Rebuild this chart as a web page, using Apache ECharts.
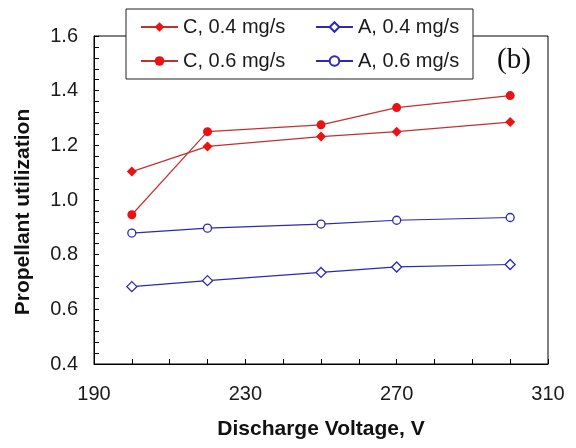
<!DOCTYPE html>
<html>
<head>
<meta charset="utf-8">
<script src="https://cdn.jsdelivr.net/npm/echarts@6/dist/echarts.min.js"></script>
<style>
  html, body { margin: 0; padding: 0; background: #fff; }
  #chart { width: 576px; height: 448px; }
</style>
</head>
<body>
<div id="chart"></div>
<script>
// Discharge voltage (V) and propellant utilization for cathode (C) and anode (A) flows
const voltages = [200, 220, 250, 270, 300];
const c04 = [1.104, 1.196, 1.232, 1.250, 1.285];
const c06 = [0.946, 1.250, 1.275, 1.338, 1.382];
const a04 = [0.683, 0.705, 0.735, 0.755, 0.764];
const a06 = [0.879, 0.897, 0.912, 0.926, 0.936];
const seriesNames = ['C, 0.4 mg/s', 'C, 0.6 mg/s', 'A, 0.4 mg/s', 'A, 0.6 mg/s'];

const pairs = vals => voltages.map((v, i) => [v, vals[i]]);
const RED = '#ee1111', RED_LINE = '#c43030', BLUE = '#2a2ab4';
const FONT = 'Liberation Sans, Arial, sans-serif';

function lineSeries(name, vals, opts) {
  return {
    name: name,
    type: 'line',
    data: pairs(vals),
    symbol: opts.symbol,
    symbolSize: opts.size,
    lineStyle: { color: opts.line, width: 1.2 },
    itemStyle: opts.hollow
      ? { color: '#fff', borderColor: opts.mark, borderWidth: 1.3 }
      : { color: opts.mark, borderColor: opts.mark, borderWidth: 0 },
    emphasis: { disabled: true },
    animation: false,
    z: 5
  };
}

const legendText = { fontFamily: FONT, fontSize: 20, color: '#1a1a1a' };
const legendCommon = {
  orient: 'vertical', top: 12, itemGap: 14,
  itemWidth: 37, itemHeight: 12, textStyle: legendText, z: 10,
  selectedMode: false
};

const chart = echarts.init(document.getElementById('chart'), null, { renderer: 'canvas' });
chart.setOption({
  backgroundColor: '#fff',
  animation: false,
  grid: {
    left: 94, right: 28, top: 36, bottom: 84,
    show: true, borderColor: '#000', borderWidth: 1, backgroundColor: 'transparent'
  },
  xAxis: {
    type: 'value', min: 190, max: 310, interval: 40,
    axisLine: { show: true, lineStyle: { color: '#000', width: 1 } },
    axisTick: { show: true, inside: true, length: 5, lineStyle: { color: '#000' } },
    minorTick: { show: true, splitNumber: 4, length: 5, lineStyle: { color: '#000' } },
    splitLine: { show: false },
    axisLabel: { fontFamily: FONT, fontSize: 20, color: '#1a1a1a', margin: 20 },
    name: 'Discharge Voltage, V', nameLocation: 'middle', nameGap: 55,
    nameTextStyle: { fontFamily: FONT, fontSize: 21, fontWeight: 'bold', color: '#111' }
  },
  yAxis: {
    type: 'value', min: 0.4, max: 1.6, interval: 0.2,
    axisLine: { show: true, lineStyle: { color: '#000', width: 1 } },
    axisTick: { show: true, inside: true, length: 5, lineStyle: { color: '#000' } },
    minorTick: { show: true, splitNumber: 5, length: 5, lineStyle: { color: '#000' } },
    splitLine: { show: false },
    axisLabel: {
      fontFamily: FONT, fontSize: 20, color: '#1a1a1a', margin: 16,
      formatter: v => v.toFixed(1)
    },
    name: 'Propellant utilization', nameLocation: 'middle', nameGap: 60,
    nameTextStyle: {
      fontFamily: FONT, fontSize: 21, fontWeight: 'bold', color: '#111',
      padding: [0, 24, 0, 0]
    }
  },
  legend: [
    Object.assign({ data: [seriesNames[0], seriesNames[1]], left: 135 }, legendCommon),
    Object.assign({ data: [seriesNames[2], seriesNames[3]], left: 310 }, legendCommon)
  ],
  graphic: [
    {
      type: 'rect', z: 8,
      shape: { x: 126, y: 9, width: 347, height: 70 },
      style: { fill: '#fff', stroke: '#222', lineWidth: 1 }
    },
    {
      type: 'text', z: 8, left: 497, top: 46,
      style: { text: '(b)', fontFamily: 'Liberation Serif, Times New Roman, serif', fontSize: 29, fill: '#111' }
    }
  ],
  series: [
    lineSeries(seriesNames[0], c04, { symbol: 'diamond', size: 10, line: RED_LINE, mark: RED }),
    lineSeries(seriesNames[1], c06, { symbol: 'circle', size: 9, line: RED_LINE, mark: RED }),
    lineSeries(seriesNames[2], a04, { symbol: 'diamond', size: 10, line: BLUE, mark: BLUE, hollow: true }),
    lineSeries(seriesNames[3], a06, { symbol: 'circle', size: 8, line: BLUE, mark: BLUE, hollow: true })
  ]
});
</script>
</body>
</html>
